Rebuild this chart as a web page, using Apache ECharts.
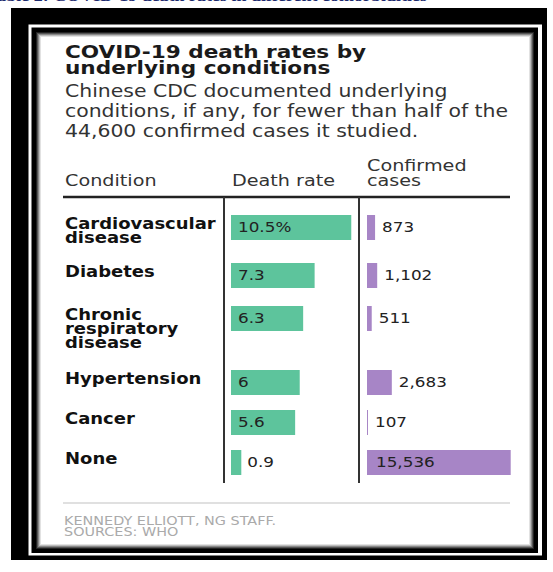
<!DOCTYPE html>
<html>
<head>
<meta charset="utf-8">
<script src="https://cdn.jsdelivr.net/npm/echarts@6/dist/echarts.min.js"></script>
<style>
html,body{margin:0;padding:0;background:#fff;overflow:hidden}
#wrap{width:553px;height:572px;overflow:hidden;position:relative;background:#fff}
#c{position:absolute;left:0;top:0;width:460.8333px;height:572px;transform:scaleX(1.2);transform-origin:0 0}
</style>
</head>
<body>
<div id="wrap"><div id="c"></div></div>
<script>
// ---- data ----
const conditions = ['Cardiovascular\ndisease', 'Diabetes', 'Chronic\nrespiratory\ndisease', 'Hypertension', 'Cancer', 'None'];
const deathRates = [10.5, 7.3, 6.3, 6, 5.6, 0.9];
const confirmedCases = [873, 1102, 511, 2683, 107, 15536];
const columnHeaders = ['Condition', 'Death rate', 'Confirmed\ncases'];
const titleLines = ['COVID-19 death rates by', 'underlying conditions'];
const subtitleLines = ['Chinese CDC documented underlying', 'conditions, if any, for fewer than half of the', '44,600 confirmed cases it studied.'];
const creditLines = ['KENNEDY ELLIOTT, NG STAFF.', 'SOURCES: WHO'];
const figureCaption = 'Table 2: COVID-19 death rates in different comorbidities';

// ---- layout (page is stretched horizontally by S) ----
const S = 1.2;
const X = v => v / S;
const rowTop = [215, 263, 306, 370, 410, 450];
const barH = 25;
const rateCol = { left: 231, width: 126, max: 11 };
const caseCol = { left: 367, width: 148, max: 16000 };
const labelLeft = 65;
const FONT = '"DejaVu Sans", sans-serif';
const GREEN = '#5dc49c';
const PURPLE = '#a785c6';

const chart = echarts.init(document.getElementById('c'), null, { renderer: 'svg' });

const grids = [], xAxes = [], yAxes = [], series = [];
conditions.forEach((name, i) => {
  // death-rate cell (carries the condition label on its y axis)
  let k = grids.length;
  grids.push({ left: X(rateCol.left), top: rowTop[i], width: X(rateCol.width), height: barH, outerBoundsMode: 'none', containLabel: false });
  xAxes.push({ gridIndex: k, type: 'value', min: 0, max: rateCol.max, show: false });
  yAxes.push({
    gridIndex: k, type: 'category', data: [name], show: true,
    axisLine: { show: false }, axisTick: { show: false }, splitLine: { show: false },
    axisLabel: {
      show: true, margin: X(rateCol.left - labelLeft), align: 'left', verticalAlign: 'top',
      padding: [-10.8, 0, 0, 0], lineHeight: 14,
      fontFamily: FONT, fontSize: 15, fontWeight: 'bold', color: '#111'
    }
  });
  const rInside = deathRates[i] / rateCol.max * rateCol.width > 30;
  series.push({
    type: 'bar', xAxisIndex: k, yAxisIndex: k, data: [deathRates[i]], barWidth: barH,
    itemStyle: { color: GREEN }, silent: true, animation: false,
    label: {
      show: true, position: rInside ? 'insideLeft' : 'right', distance: rInside ? X(7) : X(6),
      formatter: p => (i === 0 ? p.value + '%' : String(p.value)),
      fontFamily: FONT, fontSize: 14, color: '#222', textBorderWidth: 0
    }
  });
  // confirmed-cases cell
  k = grids.length;
  grids.push({ left: X(caseCol.left), top: rowTop[i], width: X(caseCol.width), height: barH, outerBoundsMode: 'none', containLabel: false });
  xAxes.push({ gridIndex: k, type: 'value', min: 0, max: caseCol.max, show: false });
  yAxes.push({ gridIndex: k, type: 'category', data: [name], show: false });
  const cInside = confirmedCases[i] / caseCol.max * caseCol.width > 60;
  series.push({
    type: 'bar', xAxisIndex: k, yAxisIndex: k, data: [confirmedCases[i]], barWidth: barH,
    itemStyle: { color: PURPLE }, silent: true, animation: false,
    label: {
      show: true, position: cInside ? 'insideLeft' : 'right', distance: cInside ? X(9) : X(7),
      formatter: p => Number(p.value).toLocaleString('en-US'),
      fontFamily: FONT, fontSize: 14, color: '#222', textBorderWidth: 0
    }
  });
});

const R = (x1, y1, x2, y2, color) => ({
  type: 'rect', silent: true, z: 0,
  shape: { x: X(x1), y: y1, width: X(x2 - x1), height: y2 - y1 },
  style: { fill: color }
});
const L = (x1, y1, x2, y2, color, w) => ({
  type: 'line', silent: true, z: 1,
  shape: { x1: X(x1), y1: y1, x2: X(x2), y2: y2 },
  style: { stroke: color, lineWidth: w }
});
const T = (x, y, text, style) => ({
  type: 'text', silent: true, z: 1, x: X(x), y: y,
  style: Object.assign({ text: text, fontFamily: FONT, align: 'left' }, style)
});

const graphics = [
  R(11, 8, 547, 560, '#000'),
  R(28.5, 24.5, 542, 555.5, '#fff'),
  R(31.5, 27.5, 538, 553, '#000'),
  R(36, 32, 534, 549, '#222'),
  R(37, 33, 533, 548, '#555'),
  R(38, 34, 532, 547, '#888'),
  R(39, 35, 531, 546, '#bbb'),
  R(40, 36, 530, 545, '#e2e2e2'),
  R(41, 37, 529, 544, '#fff'),
  T(-13, 4, figureCaption, { fontFamily: '"Liberation Serif", serif', fontWeight: 'bold', fontSize: 15, fill: '#1c2a6e', verticalAlign: 'bottom' }),
  T(labelLeft, 43.8, titleLines.join('\n'), { fontWeight: 'bold', fontSize: 18, lineHeight: 16, fill: '#1a1a1a', verticalAlign: 'top' }),
  T(labelLeft, 81.5, subtitleLines.join('\n'), { fontSize: 17, lineHeight: 20, fill: '#333', verticalAlign: 'top' }),
  T(labelLeft, 180.4, columnHeaders[0], { fontSize: 16, fill: '#333', verticalAlign: 'middle' }),
  T(232, 180.4, columnHeaders[1], { fontSize: 16, fill: '#333', verticalAlign: 'middle' }),
  T(367, 173, columnHeaders[2], { fontSize: 16, lineHeight: 15, fill: '#333', verticalAlign: 'middle' }),
  L(63, 197, 510, 197, '#222', 2.5),
  L(224, 197, 224, 483, '#333', 2 / S),
  L(359, 197, 359, 483, '#333', 2 / S),
  L(63, 503, 510, 503, '#d6d6d6', 1.5),
  T(64, 526.5, creditLines.join('\n'), { fontSize: 12, lineHeight: 11.5, fill: '#aaa', verticalAlign: 'middle' })
];

chart.setOption({
  animation: false,
  backgroundColor: '#fff',
  grid: grids,
  xAxis: xAxes,
  yAxis: yAxes,
  series: series,
  graphic: { elements: graphics }
});
</script>
</body>
</html>
